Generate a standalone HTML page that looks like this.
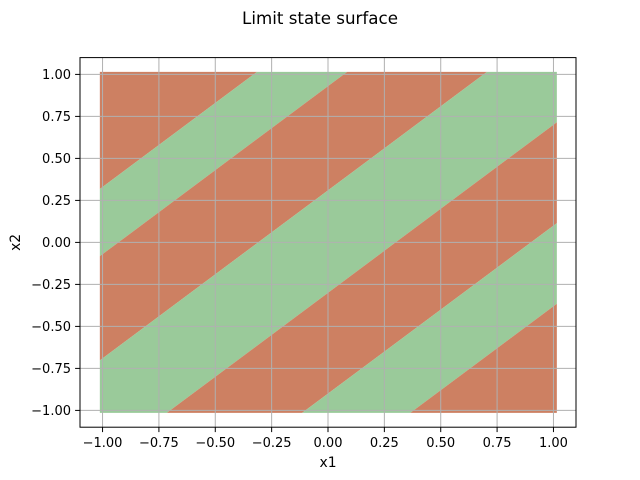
<!DOCTYPE html>
<html><head><meta charset="utf-8"><style>
html,body{margin:0;padding:0;background:#fff;}
svg{display:block;font-family:"DejaVu Sans","Liberation Sans",sans-serif;}
</style></head><body>
<svg id="chart" width="640" height="480" viewBox="0 0 640 480" xmlns="http://www.w3.org/2000/svg">
<rect width="640" height="480" fill="#fff"/>
<text x="320" y="24" text-anchor="middle" font-size="16.7" fill="#000">Limit state surface</text>
<g id="bands"></g>
<g id="grid"></g>
<rect x="80" y="57.6" width="496" height="369.6" fill="none" stroke="#000" stroke-width="1"/>
<g id="xticks"></g>
<g id="yticks"></g>
<text x="328" y="467" text-anchor="middle" font-size="13.9">x1</text>
<text x="20" y="242.4" text-anchor="middle" font-size="13.9" transform="rotate(-90 20 242.4)">x2</text>
</svg>
<script>
// band boundaries in c = x2 - x1, from top-left to bottom-right
const bandEdges = [1.33, 0.93, 0.31, -0.30, -0.90, -1.38];
const bandClasses = ["safe","fail","safe","fail","safe","fail","safe"];
const xTicks = [-1.00,-0.75,-0.50,-0.25,0.00,0.25,0.50,0.75,1.00];
const yTicks = [-1.00,-0.75,-0.50,-0.25,0.00,0.25,0.50,0.75,1.00];
const sampleExtent = [-1.012, 1.015];

const NS="http://www.w3.org/2000/svg";
const L=80,R=576,T=57.6,B=427.2, xmin=-1.1,xmax=1.1,ymin=-1.1,ymax=1.1;
const sx=v=>L+(v-xmin)/(xmax-xmin)*(R-L);
const sy=v=>B-(v-ymin)/(ymax-ymin)*(B-T);
const colors={safe:"#cd8062",fail:"#9aca9a"};

function clip(poly,f){
  const out=[];
  for(let i=0;i<poly.length;i++){
    const a=poly[i],b=poly[(i+1)%poly.length],fa=f(a),fb=f(b);
    if(fa>=0) out.push(a);
    if((fa>=0)!==(fb>=0)){const t=fa/(fa-fb);out.push([a[0]+t*(b[0]-a[0]),a[1]+t*(b[1]-a[1])]);}
  }
  return out;
}
const bandsG=document.getElementById('bands');
const e0=sampleExtent[0],e1=sampleExtent[1];
for(let i=0;i<bandClasses.length;i++){
  let poly=[[e0,-e1],[e1,-e1],[e1,e1],[e0,e1]];
  if(i>0){const hi=bandEdges[i-1];poly=clip(poly,p=>hi-(p[1]-p[0]));}
  if(i<bandEdges.length){const lo=bandEdges[i];poly=clip(poly,p=>(p[1]-p[0])-lo);}
  if(poly.length<3) continue;
  const el=document.createElementNS(NS,'polygon');
  el.setAttribute('points',poly.map(p=>sx(p[0]).toFixed(2)+','+sy(p[1]).toFixed(2)).join(' '));
  el.setAttribute('fill',colors[bandClasses[i]]);
  
  
  bandsG.appendChild(el);
}
const gridG=document.getElementById('grid'),xg=document.getElementById('xticks'),yg=document.getElementById('yticks');
function line(g,x1,y1,x2,y2,stroke,w){const l=document.createElementNS(NS,'line');l.setAttribute('x1',x1);l.setAttribute('y1',y1);l.setAttribute('x2',x2);l.setAttribute('y2',y2);l.setAttribute('stroke',stroke);l.setAttribute('stroke-width',w);g.appendChild(l);return l;}
xTicks.forEach(v=>{
  const x=sx(v);
  const gl=line(gridG,x,T,x,B,"#b0b0b0",1);
  
  
  const tk=line(xg,x,B,x,B+4.9,"#000",1);
  
  
  const t=document.createElementNS(NS,'text');
  t.setAttribute('x',x);t.setAttribute('y',B+20);t.setAttribute('text-anchor','middle');t.setAttribute('font-size','13');
  t.textContent=v.toFixed(2).replace('-','\u2212');
  
  
  xg.appendChild(t);
});
yTicks.forEach(v=>{
  const y=sy(v);
  const gl=line(gridG,L,y,R,y,"#b0b0b0",1);
  
  
  const tk=line(yg,L-4.9,y,L,y,"#000",1);
  
  
  const t=document.createElementNS(NS,'text');
  t.setAttribute('x',L-9);t.setAttribute('y',y+4.5);t.setAttribute('text-anchor','end');t.setAttribute('font-size','13');
  t.textContent=v.toFixed(2).replace('-','\u2212');
  
  
  yg.appendChild(t);
});
</script>
</body></html>
